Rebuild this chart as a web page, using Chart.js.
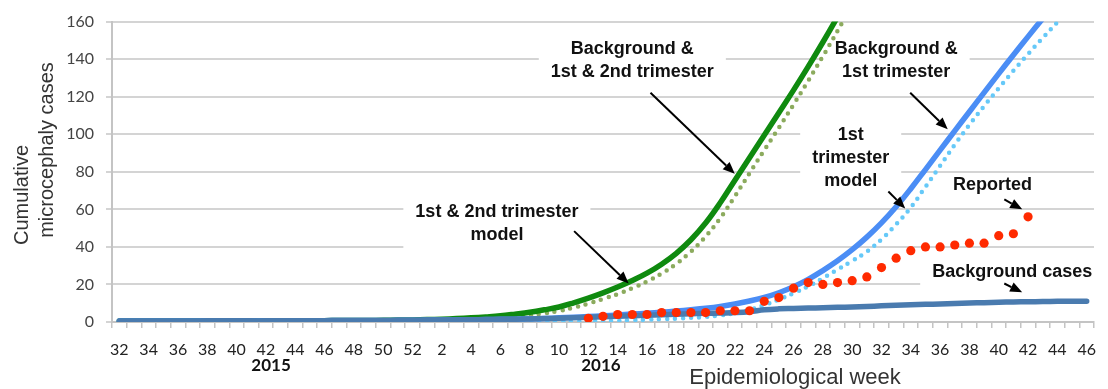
<!DOCTYPE html>
<html>
<head>
<meta charset="utf-8">
<script src="https://cdn.jsdelivr.net/npm/chart.js@4.4.1/dist/chart.umd.min.js"></script>
<style>
  html, body { margin: 0; padding: 0; background: #ffffff; }
  #chart { display: block; }
</style>
</head>
<body>
<canvas id="chart" width="1108" height="389" style="width:1108px;height:389px"></canvas>
<script>
// Epidemiological weeks: 2015 weeks 32-52, then 2016 weeks 1-46
const weeks2015 = [32,33,34,35,36,37,38,39,40,41,42,43,44,45,46,47,48,49,50,51,52];
const weeks2016 = [1,2,3,4,5,6,7,8,9,10,11,12,13,14,15,16,17,18,19,20,21,22,23,24,25,26,27,28,29,30,31,32,33,34,35,36,37,38,39,40,41,42,43,44,45,46];
const weekLabels = weeks2015.concat(weeks2016).map(String);

const yearLabels = ['2015', '2016'];
const yTicks = [0, 20, 40, 60, 80, 100, 120, 140, 160];

// Cumulative microcephaly cases per week
const backgroundCases = [
  0.5,0.5,0.5,0.5,0.5,0.5,0.6,0.6,0.6,0.6,0.6,0.7,0.7,0.7,0.7,0.8,0.8,0.8,0.8,0.9,0.9,
  1.0,1.0,1.1,1.2,1.3,1.4,1.5,1.6,1.8,2.0,2.2,2.5,2.8,3.0,3.3,3.6,3.9,4.1,4.4,4.6,
  4.8,5.0,5.5,6.5,7.0,7.2,7.4,7.6,7.8,8.0,8.3,8.6,8.9,9.2,9.4,9.6,9.9,10.1,10.3,10.5,
  10.7,10.8,10.9,11.0,11.0,11.0
];

const bgFirstSecondTrimester = [
  0.5,0.5,0.5,0.5,0.5,0.5,0.6,0.6,0.6,0.6,0.6,0.7,0.7,0.7,0.7,0.8,0.8,0.8,0.9,1.0,1.1,
  1.3,1.5,1.8,2.2,2.7,3.3,4.2,5.2,6.5,8.0,10.2,12.7,15.5,18.6,22.1,26,30.8,36.6,43.8,52.7,
  63.5,75.5,87.5,99.5,111.5,123.5,136,149,162.5,176.5,
  null,null,null,null,null,null,null,null,null,null,null,null,null,null,null,null
];

const firstSecondTrimesterModel = [
  null,null,null,null,null,null,null,null,null,null,null,null,null,null,null,null,null,null,null,null,null,
  0.3,0.5,0.7,1.0,1.4,1.9,2.6,3.5,4.6,5.9,7.6,9.8,12.3,14.8,18,21.5,25.8,31,37.5,45.5,
  55.3,67,79.3,91.5,103.5,115.8,128.5,141.5,155,169,
  null,null,null,null,null,null,null,null,null,null,null,null,null,null,null,null
];

const bgFirstTrimester = [
  0.5,0.5,0.5,0.5,0.5,0.5,0.6,0.6,0.6,0.6,0.6,0.7,0.7,0.7,0.7,0.8,0.8,0.8,0.8,0.9,0.9,
  1.0,1.0,1.1,1.2,1.3,1.4,1.5,1.7,1.9,2.2,2.5,2.9,3.3,3.7,4.2,4.7,5.2,5.8,6.5,7.3,
  8.3,9.6,11.2,13.1,15.6,18.8,22.7,27.4,32.6,38.5,45.2,52.8,61.4,71,81.2,91.5,101.8,112,122.2,132.3,
  142.2,152,161.6,171.2,180.6,190
];

const firstTrimesterModel = [
  null,null,null,null,null,null,null,null,null,null,null,null,null,null,null,null,null,null,null,null,null,
  0.1,0.1,0.1,0.1,0.2,0.2,0.2,0.3,0.3,0.4,0.4,0.5,0.6,0.8,1.0,1.2,1.5,1.8,2.2,2.7,
  3.5,4.7,6.5,9,12,15.3,19,23.3,28,32.5,37.5,44,52,61,72,83.2,94.5,105,115,124.5,
  133.8,142.7,151.3,159.7,168,176.3
];

const reported = [
  null,null,null,null,null,null,null,null,null,null,null,null,null,null,null,null,null,null,null,null,null,
  null,null,null,null,null,null,null,null,null,null,null,2,3,4,4,4,5,5,5,5,
  6,6,6,11,13,18,21,20,21,22,24,29,34,38,40,40,41,42,42,46,
  47,56,null,null,null,null
];

// Callout labels: text lines, centre (category index, value), arrow tail -> head
const notes = [
  { lines: ['Background &', '1st & 2nd trimester'], at: [35.0, 139.2], padY: 4, arrow: [[36.24, 122.1], [41.99, 78.9]] },
  { lines: ['Background &', '1st trimester'], at: [53.0, 139.2], padY: 4, arrow: [[53.96, 122.1], [56.52, 102.6]] },
  { lines: ['1st', 'trimester', 'model'], at: [49.9, 87.1], padY: 4, arrow: [[52.47, 69.5], [53.62, 60.5]] },
  { lines: ['Reported'], at: [59.57, 73.2], padY: 0, arrow: [[60.38, 65.3], [61.6, 60.0]] },
  { lines: ['Background cases'], at: [60.92, 26.8], padY: 4, arrow: [[60.38, 20.5], [61.6, 15.8]] },
  { lines: ['1st & 2nd trimester', 'model'], at: [25.76, 52.6], padY: 4, arrow: [[31.03, 48.4], [34.75, 20.5]] }
];

const NOTE_FONT = 'bold 18px "Liberation Sans", Arial, sans-serif';
const NOTE_LINE = 23;
const NOTE_PADX = 12;

function drawArrow(ctx, x0, y0, x1, y1) {
  const ang = Math.atan2(y1 - y0, x1 - x0);
  const headLen = 12, headW = 5;
  const bx = x1 - headLen * Math.cos(ang), by = y1 - headLen * Math.sin(ang);
  ctx.beginPath();
  ctx.moveTo(x0, y0);
  ctx.lineTo(bx, by);
  ctx.lineWidth = 2;
  ctx.strokeStyle = '#000';
  ctx.stroke();
  ctx.beginPath();
  ctx.moveTo(x1, y1);
  ctx.lineTo(bx + headW * Math.sin(ang), by - headW * Math.cos(ang));
  ctx.lineTo(bx - headW * Math.sin(ang), by + headW * Math.cos(ang));
  ctx.closePath();
  ctx.fillStyle = '#000';
  ctx.fill();
}

const notesPlugin = {
  id: 'notes',
  beforeDatasetsDraw(chart) {
    const { ctx, scales: { x, y } } = chart;
    ctx.save();
    ctx.font = NOTE_FONT;
    ctx.textAlign = 'center';
    ctx.textBaseline = 'middle';
    notes.forEach(n => {
      const cx = x.getPixelForValue(n.at[0]);
      const cy = y.getPixelForValue(n.at[1]);
      const w = Math.max(...n.lines.map(t => ctx.measureText(t).width)) + 2 * NOTE_PADX;
      const h = n.lines.length * NOTE_LINE + 2 * n.padY;
      ctx.fillStyle = '#ffffff';
      ctx.fillRect(cx - w / 2, cy - h / 2, w, h);
      ctx.fillStyle = '#111111';
      n.lines.forEach((t, i) => {
        ctx.fillText(t, cx, cy + (i - (n.lines.length - 1) / 2) * NOTE_LINE);
      });
    });
    ctx.restore();
  },
  afterDatasetsDraw(chart) {
    const { ctx, scales: { x, y } } = chart;
    ctx.save();
    notes.forEach(n => {
      const [a, b] = n.arrow;
      drawArrow(ctx, x.getPixelForValue(a[0]), y.getPixelForValue(a[1]),
                     x.getPixelForValue(b[0]), y.getPixelForValue(b[1]));
    });
    ctx.restore();
  },
  afterDraw(chart) {
    const { ctx, chartArea, scales: { x } } = chart;
    ctx.save();
    // year labels under the week ticks
    ctx.font = 'bold 17px Lato, "Open Sans", sans-serif';
    ctx.fillStyle = '#111';
    ctx.textAlign = 'center';
    ctx.textBaseline = 'middle';
    ctx.fillText(yearLabels[0], x.getPixelForValue(10.35), chartArea.bottom + 44);
    ctx.fillText(yearLabels[1], x.getPixelForValue(32.86), chartArea.bottom + 44);
    // x axis title
    ctx.font = '22px "Liberation Sans", Arial, sans-serif';
    ctx.fillStyle = '#333';
    ctx.fillText('Epidemiological week', x.getPixelForValue(46.1), chartArea.bottom + 56);
    // y axis title (two lines, rotated)
    ctx.font = '20px "Liberation Sans", Arial, sans-serif';
    ctx.save();
    ctx.translate(22, 195);
    ctx.rotate(-Math.PI / 2);
    ctx.fillText('Cumulative', 0, 0);
    ctx.restore();
    ctx.save();
    ctx.translate(47, 150);
    ctx.rotate(-Math.PI / 2);
    ctx.fillText('microcephaly cases', 0, 0);
    ctx.restore();
    ctx.restore();
  }
};

const solid = (data, color, order) => ({
  data, borderColor: color, backgroundColor: color, borderWidth: 5.5,
  pointRadius: 0, tension: 0.4, borderCapStyle: 'round',
  borderJoinStyle: 'round', fill: false, order
});
const dotted = (data, color, order) => ({
  data, borderColor: color, backgroundColor: color, borderWidth: 4.5,
  borderDash: [0, 8], borderCapStyle: 'round', borderJoinStyle: 'round',
  pointRadius: 0, tension: 0.4, fill: false, order
});

new Chart(document.getElementById('chart'), {
  type: 'line',
  data: {
    labels: weekLabels,
    datasets: [
      Object.assign({ label: 'Reported' }, {
        data: reported, showLine: false, pointRadius: 4.6, pointBorderWidth: 0,
        pointBackgroundColor: '#ff2a00', borderColor: '#ff2a00', order: 0
      }),
      Object.assign({ label: 'Background cases' }, solid(backgroundCases, '#4a7baf', 1)),
      Object.assign({ label: 'Background & 1st trimester' }, solid(bgFirstTrimester, '#4b8df5', 2)),
      Object.assign({ label: 'Background & 1st & 2nd trimester' }, solid(bgFirstSecondTrimester, '#0f8a0f', 3)),
      Object.assign({ label: '1st trimester model' }, dotted(firstTrimesterModel, '#66c9f8', 4)),
      Object.assign({ label: '1st & 2nd trimester model' }, dotted(firstSecondTrimesterModel, '#8cab5e', 5))
    ]
  },
  options: {
    responsive: false,
    animation: false,
    devicePixelRatio: 1,
    layout: { padding: { top: 18, right: 6, left: 0, bottom: 0 } },
    plugins: { legend: { display: false }, tooltip: { enabled: false }, title: { display: false } },
    scales: {
      x: {
        type: 'category',
        offset: true,
        grid: { display: true, drawOnChartArea: false, drawTicks: true, tickLength: 6, color: '#c4c4c4', lineWidth: 1.5, offset: true },
        border: { display: true, color: '#c4c4c4', width: 2 },
        ticks: {
          autoSkip: false, maxRotation: 0, minRotation: 0, padding: 12,
          color: '#222', font: { family: 'Lato, "Open Sans", sans-serif', size: 16 },
          callback: (v, i) => (i % 2 === 0 ? weekLabels[i] : '')
        },
        afterFit: s => { s.height = 67; }
      },
      y: {
        min: yTicks[0], max: yTicks[yTicks.length - 1],
        afterBuildTicks: s => { s.ticks = yTicks.map(v => ({ value: v })); },
        grid: { color: '#d4d4d4', lineWidth: 2, tickLength: 6, drawTicks: true },
        border: { display: true, color: '#c4c4c4', width: 2 },
        ticks: { padding: 12, color: '#444', font: { family: 'Lato, "Open Sans", sans-serif', size: 16 } },
        afterFit: s => { s.width = 112; }
      }
    }
  },
  plugins: [notesPlugin]
});
</script>
</body>
</html>
